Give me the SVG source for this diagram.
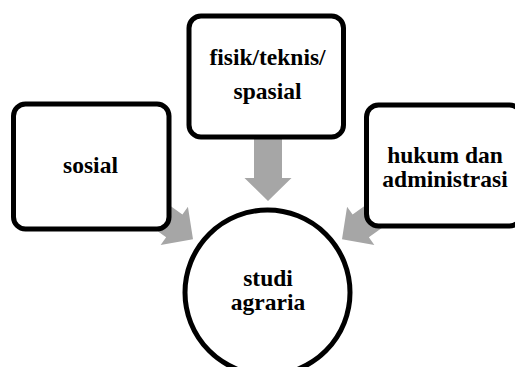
<svg xmlns="http://www.w3.org/2000/svg" width="515" height="367" viewBox="0 0 515 367">
  <style>
    .box { fill: #ffffff; stroke: #000000; stroke-width: 5; }
    .label { font-family: "Liberation Serif", "DejaVu Serif", serif; font-weight: bold; font-size: 23.5px; fill: #000000; text-anchor: middle; }
    .arrow { fill: #a6a6a6; }
  </style>
  <defs>
    <!-- block arrow pointing along +x, tip at the origin -->
    <path id="blockArrow" d="M0,0 L-23,-23.5 L-23,-14 L-63,-14 L-63,14 L-23,14 L-23,23.5 Z"/>
  </defs>
  <rect width="515" height="367" fill="#ffffff"/>

  <g id="connectors">
    <use href="#blockArrow" class="arrow" transform="translate(193,239.3) rotate(35.5)"/>
    <use href="#blockArrow" class="arrow" transform="translate(268,201) rotate(90)"/>
    <use href="#blockArrow" class="arrow" transform="translate(342,239.3) rotate(144.5)"/>
  </g>

  <g id="node-sosial">
    <rect class="box" x="13.5" y="104" width="155.5" height="125" rx="12"/>
    <text class="label" x="90.5" y="173">sosial</text>
  </g>

  <g id="node-fisik">
    <rect class="box" x="189" y="16" width="154.5" height="121" rx="12"/>
    <text class="label" x="267.5" y="65">fisik/teknis/</text>
    <text class="label" x="267.5" y="99">spasial</text>
  </g>

  <g id="node-hukum">
    <rect class="box" x="366.5" y="105" width="155" height="121" rx="12"/>
    <text class="label" x="445" y="163">hukum dan</text>
    <text class="label" x="445" y="187">administrasi</text>
  </g>

  <g id="node-studi">
    <circle class="box" cx="267.5" cy="292.5" r="82.5"/>
    <text class="label" x="268" y="286">studi</text>
    <text class="label" x="268" y="310">agraria</text>
  </g>
</svg>
